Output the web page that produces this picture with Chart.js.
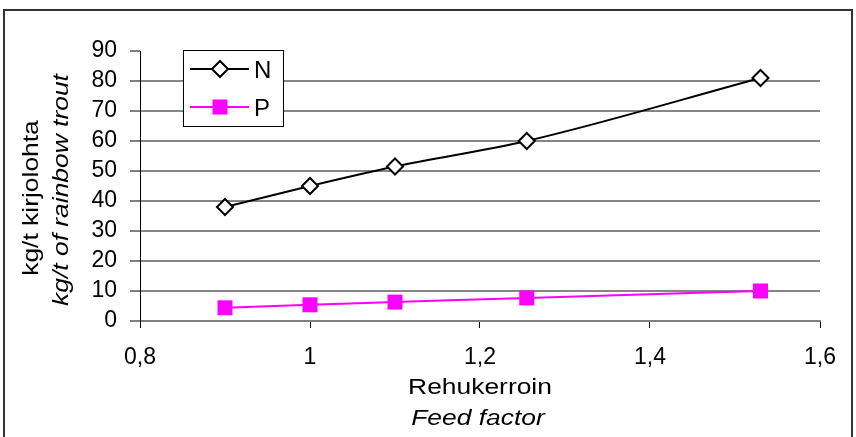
<!DOCTYPE html>
<html>
<head>
<meta charset="utf-8">
<script src="https://cdn.jsdelivr.net/npm/chart.js@4/dist/chart.umd.min.js"></script>
<style>
  html, body { margin: 0; padding: 0; background: #fff; }
  #wrap { width: 856px; height: 437px; position: relative; }
</style>
</head>
<body>
<div id="wrap"><canvas id="c"></canvas></div>
<script>
// Feed factor (x) against nutrient load per tonne of fish (y)
const feedFactor = [0.9, 1.0, 1.1, 1.255, 1.53];
const nitrogen   = [38, 45, 51.5, 60, 81];
const phosphorus = [4.4, 5.4, 6.3, 7.7, 10];
const xTicks = [0.8, 1.0, 1.2, 1.4, 1.6];
const yTicks = [0, 10, 20, 30, 40, 50, 60, 70, 80, 90];
const seriesNames = ['N', 'P'];

const FONT = "'Liberation Sans', Arial, sans-serif";

const toPoints = ys => feedFactor.map((x, i) => ({ x, y: ys[i] }));
const fmt = v => String(Number(v.toFixed(2))).replace('.', ',');

// Frame, axis titles (two-language, second line italic) and boxed legend
const decorations = {
  id: 'decorations',
  beforeDraw(chart) {
    const ctx = chart.ctx;
    ctx.save();
    ctx.strokeStyle = '#333';
    ctx.lineWidth = 2;
    ctx.strokeRect(4, 10, 848, 440);
    ctx.restore();
  },
  afterDatasetsDraw(chart) {
    const ctx = chart.ctx;
    const area = chart.chartArea;
    const stretch = 1.2;

    const text = (str, x, y, font, rot) => {
      ctx.save();
      ctx.translate(x, y);
      if (rot) ctx.rotate(-Math.PI / 2);
      ctx.scale(stretch, 1);
      ctx.font = font;
      ctx.fillStyle = '#000';
      ctx.textAlign = 'center';
      ctx.textBaseline = 'alphabetic';
      ctx.fillText(str, 0, 0);
      ctx.restore();
    };

    // x-axis title
    const cx = (area.left + area.right) / 2;
    text('Rehukerroin', cx, 394, '22px ' + FONT, false);
    text('Feed factor', cx - 2, 425, 'italic 22px ' + FONT, false);

    // y-axis title
    text('kg/t kirjolohta', 38, 198, '22px ' + FONT, true);
    text('kg/t of rainbow trout', 68, 190, 'italic 22px ' + FONT, true);

    // legend box
    const bx = 183, by = 50, bw = 100, bh = 76;
    ctx.save();
    ctx.fillStyle = '#fff';
    ctx.fillRect(bx, by, bw, bh);
    ctx.strokeStyle = '#000';
    ctx.lineWidth = 1;
    ctx.strokeRect(bx + 0.5, by + 0.5, bw, bh);

    const rows = [69, 107];
    chart.data.datasets.forEach((ds, i) => {
      const y = rows[i];
      ctx.strokeStyle = ds.borderColor;
      ctx.lineWidth = 2;
      ctx.beginPath();
      ctx.moveTo(190, y);
      ctx.lineTo(249, y);
      ctx.stroke();
      ctx.fillStyle = ds.pointBackgroundColor;
      ctx.strokeStyle = ds.pointBorderColor;
      ctx.lineWidth = ds.pointBorderWidth;
      Chart.helpers.drawPoint(ctx, {
        pointStyle: ds.pointStyle,
        radius: ds.pointRadius,
        borderWidth: ds.pointBorderWidth
      }, 220, y);
      ctx.fillStyle = '#000';
      ctx.font = '24px ' + FONT;
      ctx.textAlign = 'left';
      ctx.textBaseline = 'alphabetic';
      ctx.fillText(ds.label, 254, y + 9);
    });
    ctx.restore();
  }
};

new Chart(document.getElementById('c'), {
  type: 'line',
  data: {
    datasets: [
      {
        label: seriesNames[0],
        data: toPoints(nitrogen),
        borderColor: '#000',
        borderWidth: 2,
        pointStyle: 'rectRot',
        pointRadius: 8,
        pointBorderWidth: 2,
        pointBackgroundColor: '#fff',
        pointBorderColor: '#000',
        cubicInterpolationMode: 'monotone'
      },
      {
        label: seriesNames[1],
        data: toPoints(phosphorus),
        borderColor: '#ff00ff',
        borderWidth: 2,
        pointStyle: 'rect',
        pointRadius: 10.6,
        pointBorderWidth: 0,
        pointBackgroundColor: '#ff00ff',
        pointBorderColor: '#ff00ff',
        cubicInterpolationMode: 'monotone'
      }
    ]
  },
  options: {
    responsive: true,
    maintainAspectRatio: false,
    animation: false,
    layout: { padding: { left: 0, right: 36, top: 51, bottom: 0 } },
    plugins: { legend: { display: false }, tooltip: { enabled: false } },
    scales: {
      x: {
        type: 'linear',
        min: xTicks[0],
        max: xTicks[xTicks.length - 1],
        afterBuildTicks: s => { s.ticks = xTicks.map(v => ({ value: v })); },
        afterFit: s => { s.height = 116; },
        border: { display: true, color: '#808080', width: 2 },
        grid: {
          display: true,
          drawOnChartArea: false,
          drawTicks: true,
          tickLength: 7,
          tickColor: '#000',
          tickWidth: 1
        },
        ticks: {
          color: '#000',
          padding: 16,
          maxRotation: 0,
          autoSkip: false,
          font: { family: FONT, size: 23 },
          callback: v => fmt(v)
        }
      },
      y: {
        min: yTicks[0],
        max: yTicks[yTicks.length - 1],
        afterBuildTicks: s => { s.ticks = yTicks.map(v => ({ value: v })); },
        afterFit: s => { s.width = 140; },
        border: { display: true, color: '#000', width: 1 },
        grid: {
          color: c => (c.tick && c.tick.value === yTicks[yTicks.length - 1]) ? 'rgba(0,0,0,0)' : '#868686',
          lineWidth: 2,
          drawTicks: true,
          tickLength: 10,
          tickColor: '#000',
          tickWidth: 1
        },
        ticks: {
          color: '#000',
          padding: 13,
          autoSkip: false,
          font: { family: FONT, size: 23 },
          callback: v => fmt(v)
        }
      }
    }
  },
  plugins: [decorations]
});
</script>
</body>
</html>
